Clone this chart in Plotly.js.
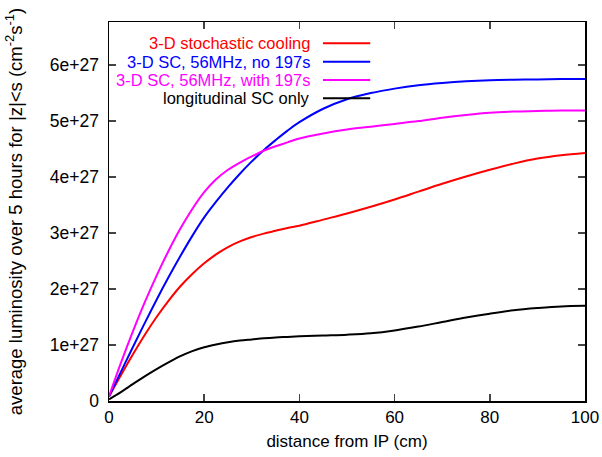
<!DOCTYPE html>
<html>
<head>
<meta charset="utf-8">
<script src="https://cdn.plot.ly/plotly-3.0.1.min.js"></script>
<style>html,body{margin:0;padding:0;background:#fff;}#chart{width:602px;height:457px;}</style>
</head>
<body>
<div id="chart"></div>
<script>
// distance from IP (cm)
const distance = [0, 2.5, 5, 7.5, 10, 12.5, 15, 17.5, 20, 22.5, 25, 27.5, 30, 32.5, 35, 37.5, 40, 45, 50, 55, 60, 65, 70, 75, 80, 85, 90, 95, 100];
// average luminosity, units of 1e27 cm^-2 s^-1
const stochastic3D = [0.08, 0.46, 0.83, 1.18, 1.50, 1.79, 2.05, 2.27, 2.46, 2.62, 2.75, 2.85, 2.93, 2.99, 3.04, 3.09, 3.13, 3.24, 3.35, 3.47, 3.60, 3.74, 3.88, 4.01, 4.13, 4.24, 4.33, 4.39, 4.43];
const sc56NoR197 = [0.08, 0.52, 0.96, 1.39, 1.81, 2.21, 2.59, 2.95, 3.28, 3.56, 3.82, 4.06, 4.28, 4.48, 4.66, 4.83, 4.98, 5.22, 5.39, 5.50, 5.58, 5.64, 5.68, 5.71, 5.73, 5.74, 5.745, 5.75, 5.75];
const sc56With197 = [0.08, 0.68, 1.24, 1.76, 2.24, 2.68, 3.08, 3.43, 3.73, 3.96, 4.13, 4.26, 4.37, 4.47, 4.55, 4.62, 4.69, 4.78, 4.85, 4.90, 4.95, 5.00, 5.06, 5.11, 5.15, 5.17, 5.18, 5.19, 5.19];
const longitudinalOnly = [0.03, 0.16, 0.30, 0.44, 0.57, 0.69, 0.80, 0.89, 0.96, 1.01, 1.05, 1.08, 1.10, 1.12, 1.135, 1.145, 1.155, 1.17, 1.185, 1.21, 1.26, 1.33, 1.41, 1.49, 1.56, 1.62, 1.66, 1.69, 1.70];

const seriesNames = ["3-D stochastic cooling", "3-D SC, 56MHz, no 197s", "3-D SC, 56MHz, with 197s", "longitudinal SC only"];
const seriesColors = ["#ff0000", "#0000ff", "#ff00ff", "#000000"];
const seriesData = [stochastic3D, sc56NoR197, sc56With197, longitudinalOnly];

const yTickVals = [0, 1, 2, 3, 4, 5, 6];
const yTickText = ["0", "1e+27", "2e+27", "3e+27", "4e+27", "5e+27", "6e+27"];
const xTickVals = [0, 20, 40, 60, 80, 100];
const SCALE = 1e27;

const font = "Liberation Sans, Arial, sans-serif";

const traces = seriesData.map((vals, i) => ({
  x: distance,
  y: vals.map(v => v * SCALE),
  type: "scatter",
  mode: "lines",
  name: seriesNames[i],
  line: {color: seriesColors[i], width: 2, shape: "spline", smoothing: 1},
  showlegend: false,
  hoverinfo: "none"
}));

// legend (gnuplot style: right-aligned text, sample to the right)
const legTextX = 0.4264, legLine0 = 0.4495, legLine1 = 0.5488;
const legY = [0.9439, 0.8954, 0.8472, 0.7989];
const annotations = seriesNames.map((n, i) => ({
  xref: "paper", yref: "paper", x: legTextX, y: legY[i],
  xanchor: "right", yanchor: "middle", showarrow: false,
  text: n, font: {family: font, size: 16.5, color: seriesColors[i]}
}));
const shapes = seriesNames.map((n, i) => ({
  type: "line", xref: "paper", yref: "paper",
  x0: legLine0, x1: legLine1, y0: legY[i], y1: legY[i],
  line: {color: seriesColors[i], width: 2}
}));

const layout = {
  width: 602, height: 457,
  margin: {l: 108.5, r: 17, t: 22, b: 55.5},
  paper_bgcolor: "#fff", plot_bgcolor: "#fff",
  font: {family: font, size: 17, color: "#000"},
  xaxis: {
    range: [0, 100], tickvals: xTickVals, ticks: "inside", ticklen: 7, tickwidth: 1.5,
    showline: true, linecolor: "#000", linewidth: 1.5, mirror: "ticks",
    showgrid: false, zeroline: false,
    tickfont: {family: font, size: 17, color: "#000"},
    title: {text: "distance from IP (cm)", font: {family: font, size: 17, color: "#000"}, standoff: 9}
  },
  yaxis: {
    range: [0, 6.77 * SCALE], tickvals: yTickVals.map(v => v * SCALE), ticktext: yTickText,
    ticks: "inside", ticklen: 7, tickwidth: 1.5, ticklabelstandoff: 5,
    showline: true, linecolor: "#000", linewidth: 1.5, mirror: "ticks",
    showgrid: false, zeroline: false,
    tickfont: {family: font, size: 17.5, color: "#000"},
    title: {text: "average luminosity over 5 hours for |z|<s (cm<sup>-2</sup>s<sup>-1</sup>)", font: {family: font, size: 18.5, color: "#000"}, standoff: 22}
  },
  annotations: annotations,
  shapes: shapes
};

Plotly.newPlot("chart", traces, layout, {staticPlot: true, displayModeBar: false});
</script>
</body>
</html>
